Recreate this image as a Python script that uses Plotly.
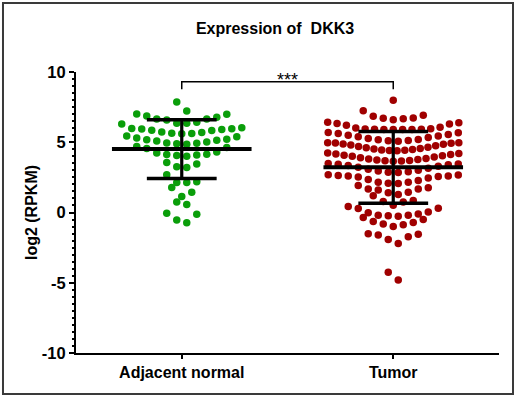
import numpy as np
import plotly.graph_objects as go

# ---------------- data ----------------
categories = ["Adjacent normal", "Tumor"]
title_text = "Expression of\u00a0 DKK3"
y_title = "log2 (RPKM)"
y_ticks = [-10, -5, 0, 5, 10]
y_ticktext = ["-10", "-5", "0", "5", "10"]
signif_label = "***"

normal_values = [
    7.87, 7.23,
    7.01, 6.78, 6.66, 6.42, 6.35, 6.36, 6.59, 6.66, 6.87, 7.0,
    6.3, 6.04, 5.97, 5.96, 5.95, 5.9, 5.85, 5.83, 5.73, 5.7, 5.64, 5.62, 5.61,
    5.45, 5.40, 5.31, 5.21, 5.17, 5.14, 5.09, 5.02, 4.95, 4.93, 4.90, 4.86,
    4.69, 4.62, 4.55, 4.31, 4.24, 4.15, 4.12, 4.10, 4.05, 4.0,
    3.55, 3.46, 3.25, 3.20,
    2.68, 2.18, 2.13, 2.13,
    1.78, 1.45, 1.14,
    0.74, 0.57,
    -0.05, -0.12, -0.54, -0.73,
]

tumor_values = [
    7.99,
    7.25, 6.92, 6.85, 6.73, 6.71, 6.68, 6.61,
    6.42, 6.38, 6.33, 6.30, 6.21, 6.07, 6.02, 5.96, 5.94, 5.93, 5.92, 5.91, 5.9, 5.9, 5.9,
    5.69, 5.67, 5.62, 5.55, 5.5, 5.45, 5.4, 5.33, 5.26, 5.2, 5.17, 5.12, 5.1, 5.07,
    4.97, 4.96, 4.95, 4.92, 4.88, 4.85, 4.8, 4.75, 4.7, 4.65, 4.6, 4.55, 4.52, 4.48,
    4.45, 4.43, 4.42, 4.4,
    4.24, 4.2, 4.17, 4.12, 4.08, 4.04, 4.0, 3.95, 3.9, 3.85, 3.8, 3.78, 3.74, 3.7,
    3.68, 3.66, 3.65,
    3.48, 3.46, 3.44, 3.4, 3.35, 3.3, 3.22, 3.15, 3.08, 3.0, 2.95, 2.9, 2.87, 2.84,
    2.68, 2.67, 2.63, 2.6, 2.6, 2.56, 2.52, 2.45, 2.35, 2.27, 2.16, 2.16, 2.09, 2.06,
    1.92, 1.76, 1.68, 1.68, 1.61, 1.45, 1.40, 1.28,
    1.2, 0.85, 0.78, 0.74, 0.52,
    0.43, 0.31, 0.28, 0.03, -0.02, -0.11, -0.19, -0.19, -0.24, -0.26,
    -0.35, -0.5, -0.64, -0.71, -0.81, -0.88, -1.0,
    -1.51, -1.54, -1.61, -1.73, -1.92, -2.2,
    -4.26, -4.8,
]

groups = [normal_values, tumor_values]
colors = ["#0a9e0a", "#a00000"]


# ---------------- column scatter layout (Prism style rows) ----------------
def swarm_offsets(values, row_h=0.7, step=0.0473, half_max=0.31):
    n = len(values)
    order = sorted(range(n), key=lambda i: -values[i])
    rows, cur, start = [], [], None
    for i in order:
        if start is None or values[i] <= start - row_h:
            if cur:
                rows.append(cur)
            cur, start = [i], values[i]
        else:
            cur.append(i)
    if cur:
        rows.append(cur)
    offs = [0.0] * n
    for row in rows:
        m = len(row)
        sp = step if m < 2 else min(step, 2 * half_max / (m - 1))
        srt = sorted(row, key=lambda i: values[i])
        for k, i in enumerate(srt):
            if m % 2 == 1:
                if k == 0:
                    pos = 0
                else:
                    j = (k + 1) // 2
                    pos = j if k % 2 == 1 else -j
            else:
                j = k // 2
                pos = (j + 0.5) if k % 2 == 0 else -(j + 0.5)
            offs[i] = pos * sp
    return offs


FONT = "Liberation Sans, Arial, Helvetica, sans-serif"
fig = go.Figure()

for gi, vals in enumerate(groups):
    offs = swarm_offsets(vals)
    fig.add_trace(go.Scatter(
        x=[gi + o for o in offs], y=vals, mode="markers",
        marker=dict(size=7.5, color=colors[gi], line=dict(width=0)),
        showlegend=False, hoverinfo="y"))

# mean and SD bars
for gi, vals in enumerate(groups):
    arr = np.array(vals)
    m, sd = arr.mean(), arr.std(ddof=1)
    fig.add_trace(go.Scatter(x=[gi - 0.33, gi + 0.33], y=[m, m], mode="lines",
                             line=dict(color="black", width=4), showlegend=False, hoverinfo="skip"))
    fig.add_trace(go.Scatter(x=[gi, gi], y=[m - sd, m + sd], mode="lines",
                             line=dict(color="black", width=3.2), showlegend=False, hoverinfo="skip"))
    for yy in (m - sd, m + sd):
        fig.add_trace(go.Scatter(x=[gi - 0.165, gi + 0.165], y=[yy, yy], mode="lines",
                                 line=dict(color="black", width=3.5), showlegend=False, hoverinfo="skip"))

# significance bracket
br_top, br_low = 9.31, 8.77
fig.add_trace(go.Scatter(x=[0, 0, 1, 1], y=[br_low, br_top, br_top, br_low], mode="lines",
                         line=dict(color="black", width=1.5), showlegend=False, hoverinfo="skip"))
fig.add_annotation(x=0.5, y=br_top, xref="x", yref="y", text=signif_label, showarrow=False,
                   yanchor="bottom", yshift=-10,
                   font=dict(family=FONT, size=18, color="black"))

# outer frame
fig.add_shape(type="rect", xref="paper", yref="paper",
              x0=-0.1726, x1=1.0331, y0=-0.1459, y1=1.2456,
              line=dict(color="#3a3a3a", width=2), fillcolor="rgba(0,0,0,0)", layer="below")

fig.update_layout(
    width=517, height=398,
    margin=dict(l=76, r=18, t=72, b=45),
    paper_bgcolor="white", plot_bgcolor="white",
    title=dict(text=title_text, x=0.4705, xref="paper", xanchor="center",
               y=1 - 28.5 / 398, yref="container", yanchor="middle",
               font=dict(family=FONT, size=16, color="black", weight="bold")),
    font=dict(family=FONT, color="black"),
    xaxis=dict(range=[-0.5, 1.5], tickvals=[0, 1], ticktext=categories, automargin=False,
               showline=True, linecolor="black", linewidth=2, showgrid=False, zeroline=False,
               ticks="outside", ticklen=4, tickwidth=2, tickcolor="black",
               tickfont=dict(family=FONT, size=16, color="black", weight="bold")),
    yaxis=dict(range=[-10, 10], tickvals=y_ticks, ticktext=y_ticktext, automargin=False,
               showline=True, linecolor="black", linewidth=2, showgrid=False, zeroline=False,
               ticks="outside", ticklen=5, tickwidth=2, tickcolor="black",
               minor=dict(dtick=0.5, ticks="outside", ticklen=2.5, tickwidth=1.5,
                          tickcolor="black", showgrid=False),
               tickfont=dict(family=FONT, size=16.5, color="black", weight="bold"),
               title=dict(text=y_title, standoff=0,
                          font=dict(family=FONT, size=16, color="black", weight="bold"))),
)

fig.write_html("out.html", config={"displayModeBar": False},
               post_script="document.body.style.margin='0';document.body.style.overflow='hidden';")
